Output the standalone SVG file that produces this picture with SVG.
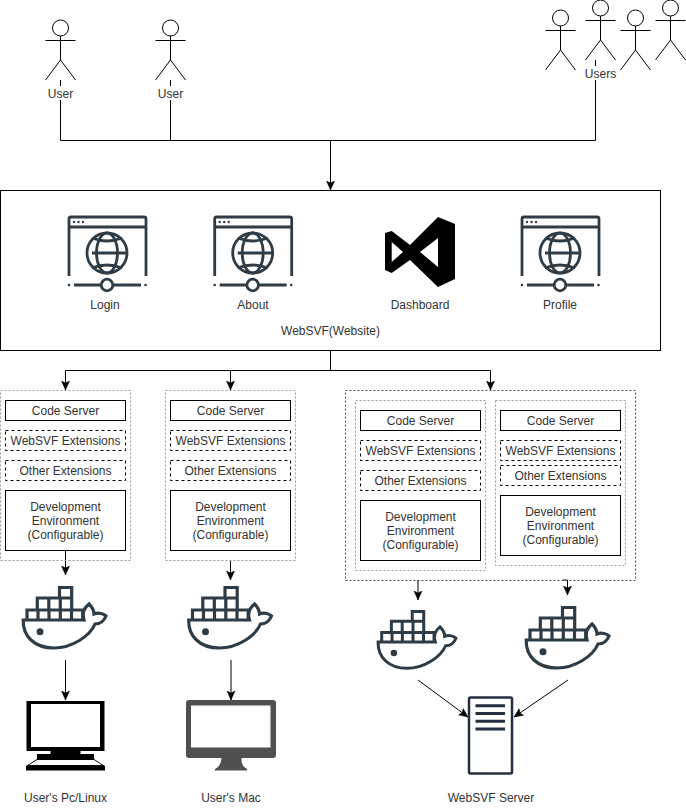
<svg xmlns="http://www.w3.org/2000/svg" width="686" height="809" viewBox="0 0 686 809">
<style>
text{font-family:"Liberation Sans",Arial,sans-serif;font-size:12px;fill:#333;text-anchor:middle}
.box{fill:#fff;stroke:#000;stroke-width:1}
.dash{fill:#fff;stroke:#000;stroke-width:1;stroke-dasharray:3 3}
.dot{fill:none;stroke:#555;stroke-width:1;stroke-dasharray:2 2}
.grey{fill:none;stroke:#999;stroke-width:1;stroke-dasharray:2 2}
.link{fill:none;stroke:#000;stroke-width:1}
.arrow{marker-end:url(#head)}
.actor{fill:none;stroke:#000;stroke-width:1}
.ic{fill:none;stroke:#2f3c45;stroke-width:2.8}
.wh{fill:none;stroke:#2f3c45;stroke-width:3.2}
.icf{fill:#2f3c45}
</style>
<defs>
<marker id="head" markerUnits="userSpaceOnUse" markerWidth="10" markerHeight="10" refX="9" refY="5" orient="auto">
<path d="M9,5 L0,1 L2,5 L0,9 Z" fill="#000" stroke="#000" stroke-width="0.5"/>
</marker>
<g id="actor"><circle cx="0" cy="8" r="8" class="actor"/><path class="actor" d="M0,16V40M-15,20.5H15M-15,60L0,40L15,60"/></g>
<g id="web">
<path class="ic" d="M69,276V219Q69,217 71,217H144Q146,217 146,219V276M69,227H146"/>
<circle class="icf" cx="74" cy="222" r="1.200"/><circle class="icf" cx="78.500" cy="222" r="1.200"/><circle class="icf" cx="83" cy="222" r="1.200"/>
<circle class="ic" cx="107" cy="253" r="20"/>
<ellipse class="ic" cx="107" cy="253" rx="10.500" ry="20"/>
<path class="ic" d="M92,253H127M92,238Q107,244 122,238M92,268Q107,262 122,268"/>
<path class="ic" d="M74,285H101M113,285H141"/><circle class="ic" cx="107" cy="285" r="5.800"/>
<circle class="icf" cx="69" cy="285" r="1.300"/><circle class="icf" cx="145.500" cy="285" r="1.300"/>
</g>
<g id="docker">
<path class="wh" d="M1.200,34H62C60,28 62,22 67,18C70,21 72,25 72,28C77,26 82,28 84,30C82,35 78,38 73,38C68,50 50,62 32,62C12,62 0.800,50 1.200,34Z"/>
<path class="wh" d="M5,33.500V24H60.700V33.500M16,24V33.500M27,24V33.500M38.300,24V33.500M49.500,24V33.500M15.300,24V12H49.700V24M26.800,12V24M38.300,12V24M37.500,12V1.500H49.700V12"/>
<circle class="icf" cx="18" cy="45.700" r="3.500"/>
</g>
</defs>

<g id="connectors">
<path class="link" d="M60.500,80V86M60.500,100V140.500M170.500,80V86M170.500,100V140.500M595.500,60V66M595.500,80V140.500M60.500,140.500H595.500"/>
<path class="link arrow" d="M330.500,140.500V190"/>
<path class="link" d="M330.500,350.500V370.500M65.500,370.500H490.500"/>
<path class="link arrow" d="M65.500,370.500V390"/>
<path class="link arrow" d="M230.500,370.500V390"/>
<path class="link arrow" d="M490.500,370.500V390"/>
<path class="link arrow" d="M65.500,550.500V575"/>
<path class="link arrow" d="M230.500,560.500V580"/>
<path class="link arrow" d="M418,580V600"/>
<path class="link arrow" d="M563,580H567.500V595"/>
<path class="link arrow" d="M65.500,660V700"/>
<path class="link arrow" d="M231,660V700"/>
<path class="link arrow" d="M418,680L468,717"/>
<path class="link arrow" d="M568,680L514,717"/>
</g>

<g id="user1"><use href="#actor" x="60.500" y="20"/><text x="60.500" y="98">User</text></g>
<g id="user2"><use href="#actor" x="170.500" y="20"/><text x="170.500" y="98">User</text></g>
<g id="users"><use href="#actor" x="560.500" y="10"/><use href="#actor" x="600.500" y="0"/><use href="#actor" x="635.500" y="10"/><use href="#actor" x="670.500" y="0"/><text x="600.500" y="78">Users</text></g>

<g id="website">
<rect class="box" x="0.500" y="190.500" width="660" height="160" style="fill:none"/>
<text x="330.500" y="335">WebSVF(Website)</text>
</g>
<g id="login"><use href="#web"/><text x="105" y="309">Login</text></g>
<g id="about"><use href="#web" x="145.700"/><text x="253" y="309">About</text></g>
<g id="dashboard">
<path fill="#000" fill-rule="evenodd" d="M385,233L391.700,231L410,245L438,217L455,224V279L438,287L410,260L391.700,273L385,270ZM391.700,242V262L403,252ZM438,238L420,252L438,267Z"/>
<text x="420" y="309">Dashboard</text>
</g>
<g id="profile"><use href="#web" x="453"/><text x="560" y="309">Profile</text></g>

<g id="stack1">
<rect class="grey" x="0.500" y="390.500" width="130" height="170"/>
<rect class="box" x="5.500" y="400.500" width="120" height="20"/><text x="65.500" y="415">Code Server</text>
<rect class="dash" x="5.500" y="430.500" width="120" height="20"/><text x="65.500" y="445">WebSVF Extensions</text>
<rect class="dash" x="5.500" y="460.500" width="120" height="20"/><text x="65.500" y="475">Other Extensions</text>
<rect class="box" x="5.500" y="490.500" width="120" height="60"/><text x="65.500" y="511">Development</text><text x="65.500" y="525">Environment</text><text x="65.500" y="539">(Configurable)</text>
</g>
<g id="stack2">
<rect class="grey" x="165.500" y="390.500" width="130" height="170"/>
<rect class="box" x="170.500" y="400.500" width="120" height="20"/><text x="230.500" y="415">Code Server</text>
<rect class="dash" x="170.500" y="430.500" width="120" height="20"/><text x="230.500" y="445">WebSVF Extensions</text>
<rect class="dash" x="170.500" y="460.500" width="120" height="20"/><text x="230.500" y="475">Other Extensions</text>
<rect class="box" x="170.500" y="490.500" width="120" height="60"/><text x="230.500" y="511">Development</text><text x="230.500" y="525">Environment</text><text x="230.500" y="539">(Configurable)</text>
</g>
<g id="server-group"><rect class="dot" x="345.500" y="390.500" width="290" height="190"/></g>
<g id="stack3">
<rect class="grey" x="355.500" y="400.500" width="130" height="170"/>
<rect class="box" x="360.500" y="410.500" width="120" height="20"/><text x="420.500" y="425">Code Server</text>
<rect class="dash" x="360.500" y="440.500" width="120" height="20"/><text x="420.500" y="455">WebSVF Extensions</text>
<rect class="dash" x="360.500" y="470.500" width="120" height="20"/><text x="420.500" y="485">Other Extensions</text>
<rect class="box" x="360.500" y="500.500" width="120" height="60"/><text x="420.500" y="521">Development</text><text x="420.500" y="535">Environment</text><text x="420.500" y="549">(Configurable)</text>
</g>
<g id="stack4">
<rect class="grey" x="495.500" y="400.500" width="130" height="165"/>
<rect class="box" x="500.500" y="410.500" width="120" height="20"/><text x="560.500" y="425">Code Server</text>
<rect class="dash" x="500.500" y="440.500" width="120" height="20"/><text x="560.500" y="455">WebSVF Extensions</text>
<rect class="dash" x="500.500" y="465.500" width="120" height="20"/><text x="560.500" y="480">Other Extensions</text>
<rect class="box" x="500.500" y="495.500" width="120" height="60"/><text x="560.500" y="516">Development</text><text x="560.500" y="530">Environment</text><text x="560.500" y="544">(Configurable)</text>
</g>

<g id="docker1"><use href="#docker" transform="translate(22,586)"/></g>
<g id="docker2"><use href="#docker" transform="translate(187.500,586)"/></g>
<g id="docker3"><use href="#docker" transform="translate(377,610) scale(0.94)"/></g>
<g id="docker4"><use href="#docker" transform="translate(525,606)"/></g>

<g id="pc">
<path fill="#000" fill-rule="evenodd" d="M26.500,701H104.500V751H80.500V754H94V759L105,766V770.500H26V766L37,759V754H50.500V751H26.500ZM31,704V747H100V704ZM37,760L29,765H102L94,760Z"/>
<text x="65.500" y="802">User's Pc/Linux</text>
</g>
<g id="mac">
<path fill="#505050" fill-rule="evenodd" d="M189,700H273Q276,700 276,703V755Q276,758 273,758H241.500Q241,766 247,769Q247.500,770.500 246,770.500H216Q214.500,770.500 215,769Q221,766 221.500,758H189Q186,758 186,755V703Q186,700 189,700ZM191,705.500V747.500H270.500V705.500Z"/>
<text x="231" y="802">User's Mac</text>
</g>
<g id="server">
<rect x="469" y="697.500" width="43" height="76" rx="1.500" fill="#fff" stroke="#232f3e" stroke-width="2.500"/>
<path d="M475.500,705.700H505M475.500,713.500H505M475.500,721.300H505M475.500,729H505" fill="none" stroke="#232f3e" stroke-width="3"/>
<text x="491" y="802">WebSVF Server</text>
</g>
</svg>
